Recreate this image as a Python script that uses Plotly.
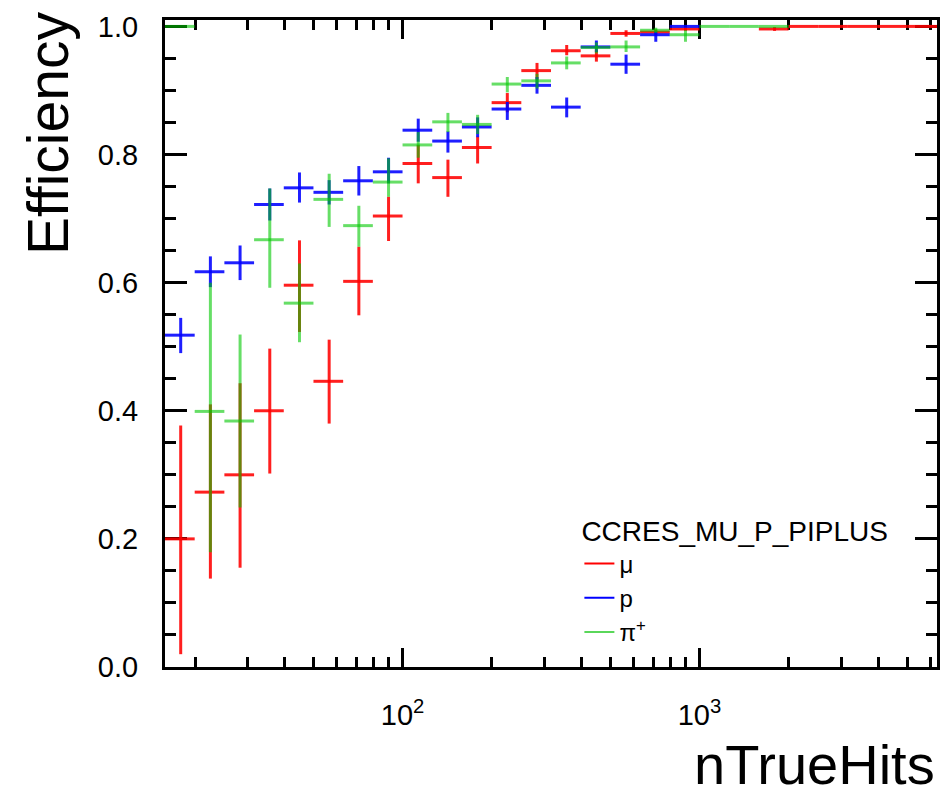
import numpy as np
import plotly.graph_objects as go

# Histogram binning: 26 log-spaced bins in nTrueHits, 10^1.2 .. 10^3.8
LOG_MIN, LOG_MAX, N_BINS = 1.2, 3.8, 26
bin_edges = np.logspace(LOG_MIN, LOG_MAX, N_BINS + 1)

# Efficiency per bin (None = empty bin) with lower / upper error bounds
mu_eff = [0.200, 0.273, 0.300, 0.400, 0.596, 0.446, 0.602, 0.704, 0.786, 0.764,
          0.811, 0.881, 0.931, 0.962, 0.954, 0.989, 0.991, 0.996, None, None,
          0.996, 1.0, 1.0, 1.0, 1.0, 1.0]
mu_lo = [0.020, 0.138, 0.155, 0.302, 0.523, 0.380, 0.549, 0.665, 0.755, 0.734,
         0.786, 0.866, 0.917, 0.955, 0.945, 0.984, 0.987, 0.993, None, None,
         0.993, 1.0, 1.0, 1.0, 1.0, 1.0]
mu_hi = [0.377, 0.410, 0.443, 0.497, 0.666, 0.511, 0.656, 0.734, 0.815, 0.792,
         0.828, 0.896, 0.943, 0.971, 0.963, 0.994, 0.995, 0.999, None, None,
         0.999, 1.0, 1.0, 1.0, 1.0, 1.0]

p_eff = [0.518, 0.617, 0.631, 0.722, 0.748, 0.741, 0.759, 0.773, 0.838, 0.821,
         0.843, 0.871, 0.908, 0.874, 0.968, 0.941, 0.987, 1.0, None, None,
         None, None, None, None, None, None]
p_lo = [0.490, 0.593, 0.604, 0.697, 0.725, 0.722, 0.736, 0.755, 0.820, 0.803,
        0.827, 0.854, 0.895, 0.858, 0.960, 0.926, 0.976, 1.0, None, None,
        None, None, None, None, None, None]
p_hi = [0.545, 0.641, 0.658, 0.747, 0.772, 0.760, 0.782, 0.795, 0.856, 0.836,
        0.858, 0.882, 0.921, 0.889, 0.978, 0.956, 0.992, 1.0, None, None,
        None, None, None, None, None, None]

pi_eff = [1.0, 0.399, 0.384, 0.667, 0.568, 0.730, 0.689, 0.757, 0.815, 0.851,
          0.847, 0.910, 0.915, 0.943, 0.967, 0.968, 0.994, 0.987, 1.0, 1.0,
          1.0, None, None, None, None, None]
pi_lo = [1.0, 0.179, 0.249, 0.592, 0.507, 0.687, 0.656, 0.734, 0.795, 0.835,
         0.832, 0.897, 0.903, 0.933, 0.958, 0.960, 0.990, 0.976, 1.0, 1.0,
         1.0, None, None, None, None, None]
pi_hi = [1.0, 0.600, 0.519, 0.747, 0.630, 0.770, 0.720, 0.794, 0.835, 0.865,
         0.862, 0.921, 0.926, 0.953, 0.975, 0.978, 0.998, 0.994, 1.0, 1.0,
         1.0, None, None, None, None, None]

series = [
    ("\u03bc", mu_eff, mu_lo, mu_hi, "rgba(255,0,0,0.88)", "rgb(255,0,0)"),
    ("p", p_eff, p_lo, p_hi, "rgba(0,0,255,0.88)", "rgb(0,0,255)"),
    ("\u03c0<sup>+</sup>", pi_eff, pi_lo, pi_hi, "rgba(0,200,0,0.6)", "rgb(90,215,90)"),
]

fig = go.Figure()

for name, eff, lo, hi, col, legcol in series:
    xs, ys, exm, exp_, eym, eyp = [], [], [], [], [], []
    for k, v in enumerate(eff):
        if v is None:
            continue
        a, b = bin_edges[k], bin_edges[k + 1]
        c = 0.5 * (a + b)
        xs.append(c)
        ys.append(v)
        exm.append(c - a)
        exp_.append(b - c)
        eym.append(v - lo[k])
        eyp.append(hi[k] - v)
    fig.add_trace(go.Scatter(
        x=xs, y=ys, mode="markers",
        marker=dict(size=0.1, color=col),
        error_x=dict(type="data", symmetric=False, array=exp_, arrayminus=exm,
                     color=col, thickness=3, width=0),
        error_y=dict(type="data", symmetric=False, array=eyp, arrayminus=eym,
                     color=col, thickness=3, width=0),
        showlegend=False, hoverinfo="skip",
    ))
    # legend entry drawn as a short line sample
    fig.add_trace(go.Scatter(
        x=[None], y=[None], mode="lines", name=name,
        line=dict(color=legcol, width=2),
    ))

minor_x = [m * 10 ** e for e in (1, 2, 3) for m in range(2, 10)
           if 10 ** LOG_MIN < m * 10 ** e < 10 ** LOG_MAX]

font_family = "Liberation Sans, Arial, Helvetica, sans-serif"

fig.update_layout(
    width=946, height=791,
    margin=dict(l=165, r=6, t=20, b=124),
    paper_bgcolor="white", plot_bgcolor="white",
    font=dict(family=font_family, color="black"),
    xaxis=dict(
        type="log", range=[LOG_MIN, LOG_MAX],
        tickmode="array", tickvals=[100, 1000],
        ticktext=["10<sup>2</sup>", "10<sup>3</sup>"],
        ticks="inside", ticklen=19, tickwidth=2.5, tickcolor="black",
        showline=True, linewidth=3, linecolor="black", mirror="allticks",
        showgrid=False, zeroline=False, layer="below traces",
        tickfont=dict(size=29), ticklabelstandoff=20,
        minor=dict(tickmode="array", tickvals=minor_x, ticks="inside",
                   ticklen=10, tickwidth=2.5, tickcolor="black", showgrid=False),
    ),
    yaxis=dict(
        range=[0, 1.01], tick0=0, dtick=0.2, tickformat=".1f",
        ticks="inside", ticklen=22, tickwidth=2.5, tickcolor="black",
        showline=True, linewidth=3, linecolor="black", mirror="allticks",
        showgrid=False, zeroline=False, layer="below traces",
        tickfont=dict(size=29), ticklabelstandoff=18,
        minor=dict(dtick=0.05, ticks="inside", ticklen=11, tickwidth=2.5,
                   tickcolor="black", showgrid=False),
    ),
    legend=dict(
        x=(581 - 165) / 775, y=(667 - 505) / 647,
        xanchor="left", yanchor="top",
        bgcolor="rgba(0,0,0,0)", borderwidth=0,
        title=dict(text="CCRES_MU_P_PIPLUS", font=dict(size=28)),
        font=dict(size=24), tracegroupgap=0,
    ),
    annotations=[
        dict(text="Efficiency", textangle=-90, showarrow=False,
             xref="paper", yref="paper",
             x=(47 - 165) / 775, xanchor="center",
             y=(667 - 10) / 647, yanchor="top",
             font=dict(size=57)),
        dict(text="nTrueHits", showarrow=False,
             xref="paper", yref="paper",
             x=(940 - 165) / 775, xanchor="right",
             y=(667 - 764) / 647, yanchor="middle",
             font=dict(size=56)),
    ],
)

fig.write_html("out.html")
